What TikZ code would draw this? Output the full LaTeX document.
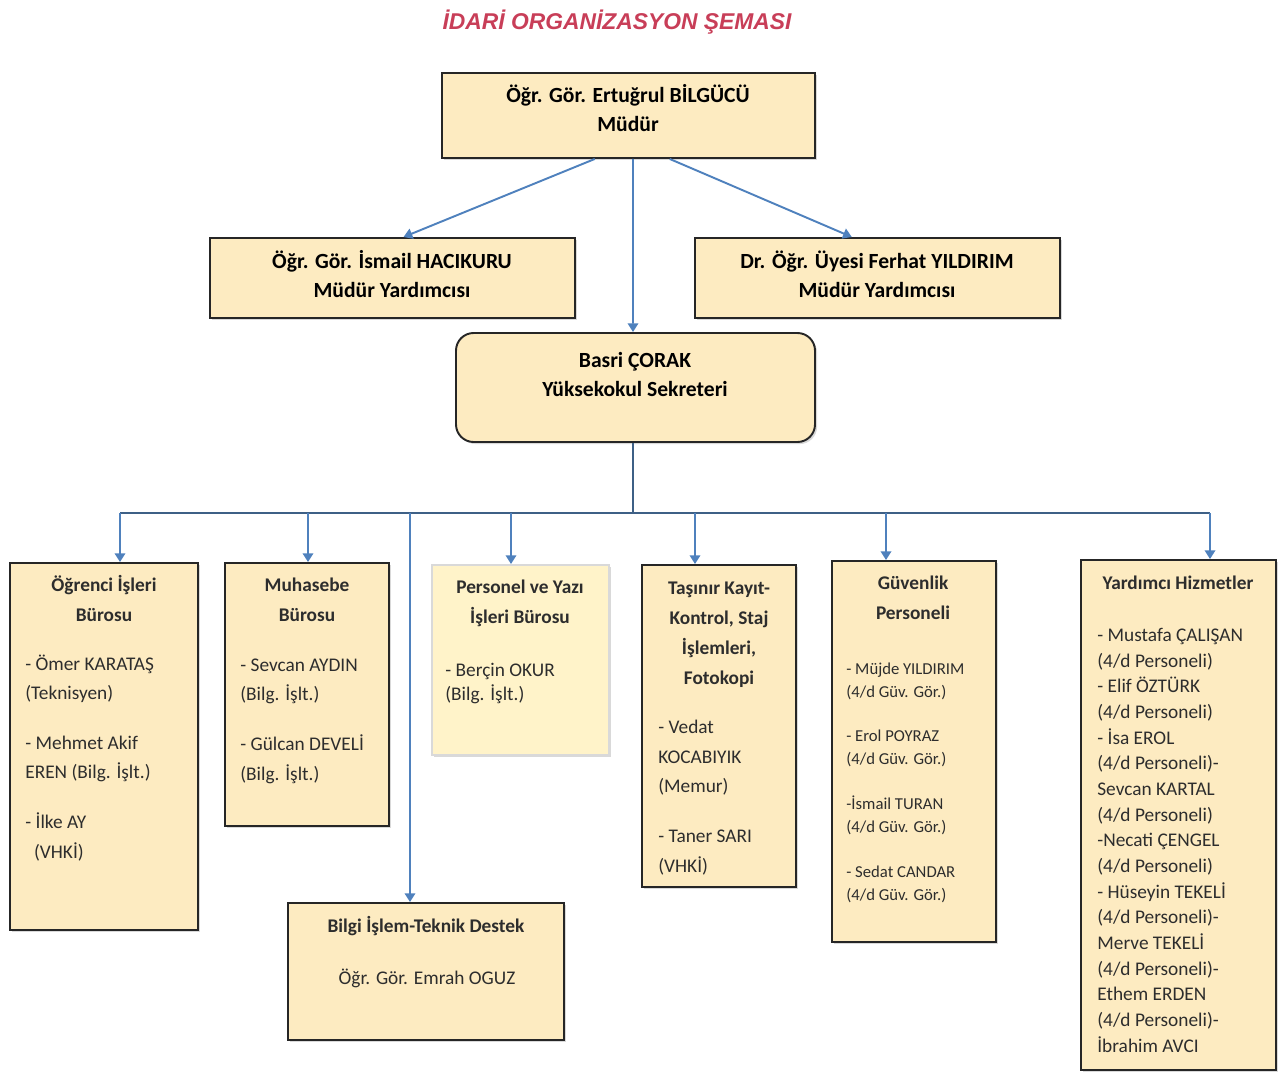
\documentclass[tikz,border=0pt]{standalone}
\usepackage{fontspec}
\setmainfont{Carlito}
\newfontfamily\titlefont{Liberation Sans}
\usetikzlibrary{arrows.meta,fit,shadows,calc}
\definecolor{box-color}{RGB}{253,235,193}
\definecolor{pale-color}{RGB}{255,243,201}
\definecolor{line-color}{RGB}{79,129,189}
\definecolor{bus-color}{RGB}{62,96,134}
\definecolor{title-color}{RGB}{200,62,88}
\definecolor{text-color}{RGB}{45,45,45}

\begin{document}
\begin{tikzpicture}[x=0.02cm, y=-0.02cm,
  panel/.style={draw=black!85, line width=1.1pt, fill=box-color, inner sep=0pt,
    drop shadow={shadow xshift=1.2pt, shadow yshift=-1.2pt, opacity=0.3}},
  chief/.style={anchor=base, align=center, inner sep=0pt,
    font=\bfseries\fontsize{12.3}{16.5}\selectfont},
  head/.style={anchor=base, align=center, inner sep=0pt, text=text-color,
    font=\bfseries\fontsize{11}{17}\selectfont},
  names/.style={anchor=base west, align=left, inner sep=0pt, text=text-color,
    font=\fontsize{11}{17}\selectfont},
  link/.style={line-color, line width=1.1pt},
  arr/.style={link, -{Triangle[width=6pt,length=5pt]}},
  bus/.style={bus-color, line width=1.4pt}]
\useasboundingbox (0,0) rectangle (1283,1075);

\node[font=\titlefont\bfseries\itshape\fontsize{13}{15}\selectfont, text=title-color] (title) at (617,22) {İDARİ ORGANİZASYON ŞEMASI};

\node[panel, fit={(442,73) (815,158)}] (mudur) {};
\node[chief] (mudur_txt) at (628,131) {Öğr. Gör. Ertuğrul BİLGÜCÜ\\Müdür};

\node[panel, fit={(210,238) (575,318)}] (yrd_left) {};
\node[chief] (yrd_left_txt) at (392,297) {Öğr. Gör. İsmail HACIKURU\\Müdür Yardımcısı};
\node[panel, fit={(695,238) (1060,318)}] (yrd_right) {};
\node[chief] (yrd_right_txt) at (877,297) {Dr. Öğr. Üyesi Ferhat YILDIRIM\\Müdür Yardımcısı};

\node[panel, rounded corners=10pt, fit={(456,333) (815,442)}] (sekreter) {};
\node[chief] (sekreter_txt) at (635,396) {Basri ÇORAK\\Yüksekokul Sekreteri};

\node[panel, fit={(10,563) (198,930)}] (ogrenci) {};
\node[head] (ogrenci_title) at (104,621) {Öğrenci İşleri\\Bürosu};
\node[names] (ogrenci_list) at (25,858) {- Ömer KARATAŞ\\(Teknisyen)\\[11pt]- Mehmet Akif\\EREN (Bilg. İşlt.)\\[11pt]- İlke AY\\\hspace{5pt}(VHKİ)};

\node[panel, fit={(225,563) (389,826)}] (muhasebe) {};
\node[head] (muhasebe_title) at (307,621) {Muhasebe\\Bürosu};
\node[names] (muhasebe_list) at (240,780) {- Sevcan AYDIN\\(Bilg. İşlt.)\\[11pt]- Gülcan DEVELİ\\(Bilg. İşlt.)};

\node[panel, draw=black!15, fill=pale-color, fit={(432,565) (609,755)}] (personel) {};
\node[head] (personel_title) at (520,623) {Personel ve Yazı\\İşleri Bürosu};
\node[names, font=\fontsize{11}{13.6}\selectfont] (personel_list) at (445,700) {- Berçin OKUR\\(Bilg. İşlt.)};

\node[panel, fit={(642,565) (796,887)}] (tasinir) {};
\node[head] (tasinir_title) at (719,684) {Taşınır Kayıt-\\Kontrol, Staj\\İşlemleri,\\Fotokopi};
\node[names] (tasinir_list) at (658,872) {- Vedat\\KOCABIYIK\\(Memur)\\[11pt]- Taner SARI\\(VHKİ)};

\node[panel, fit={(832,561) (996,942)}] (guvenlik) {};
\node[head] (guvenlik_title) at (913,619) {Güvenlik\\Personeli};
\node[names, font=\fontsize{9.5}{13}\selectfont] (guvenlik_list) at (846,900) {- Müjde YILDIRIM\\(4/d Güv. Gör.)\\[12.5pt]- Erol POYRAZ\\(4/d Güv. Gör.)\\[12.5pt]-İsmail TURAN\\(4/d Güv. Gör.)\\[12.5pt]- Sedat CANDAR\\(4/d Güv. Gör.)};

\node[panel, fit={(1081,560) (1276,1070)}] (yardimci) {};
\node[head] (yardimci_title) at (1178,589) {Yardımcı Hizmetler};
\node[names, font=\fontsize{11}{14.6}\selectfont] (yardimci_list) at (1097,1052) {- Mustafa ÇALIŞAN\\(4/d Personeli)\\- Elif ÖZTÜRK\\(4/d Personeli)\\- İsa EROL\\(4/d Personeli)-\\Sevcan KARTAL\\(4/d Personeli)\\-Necati ÇENGEL\\(4/d Personeli)\\- Hüseyin TEKELİ\\(4/d Personeli)-\\Merve TEKELİ\\(4/d Personeli)-\\Ethem ERDEN\\(4/d Personeli)-\\İbrahim AVCI};

\node[panel, fit={(288,903) (564,1040)}] (bilgi) {};
\node[head] (bilgi_title) at (426,932) {Bilgi İşlem-Teknik Destek};
\node[head, font=\fontsize{11}{17}\selectfont] (bilgi_list) at (427,984) {Öğr. Gör. Emrah OGUZ};

\draw[arr] ($(mudur.south)+(4.5,0)$) -- ($(sekreter.north)+(-2.5,0)$);
\draw[arr] ($(mudur.south west)!0.41!(mudur.south east)$) -- ($(yrd_left.north west)!0.53!(yrd_left.north east)$);
\draw[arr] ($(mudur.south west)!0.61!(mudur.south east)$) -- ($(yrd_right.north west)!0.43!(yrd_right.north east)$);

\coordinate (bus_1) at (120,513);
\coordinate (bus_2) at (308,513);
\coordinate (bus_0) at (410,513);
\coordinate (bus_3) at (511,513);
\coordinate (bus_4) at (695,513);
\coordinate (bus_5) at (886,513);
\coordinate (bus_6) at (1210,513);
\coordinate (bus_top) at (633,513);
\draw[bus] (sekreter.south -| bus_top) -- (bus_top);
\draw[bus] (bus_1) -- (bus_6);
\foreach \d/\b in {1/ogrenci, 2/muhasebe, 3/personel, 4/tasinir, 5/guvenlik, 6/yardimci, 0/bilgi}
  \draw[arr] (bus_\d) -- (bus_\d |- \b.north);
\end{tikzpicture}
\end{document}
